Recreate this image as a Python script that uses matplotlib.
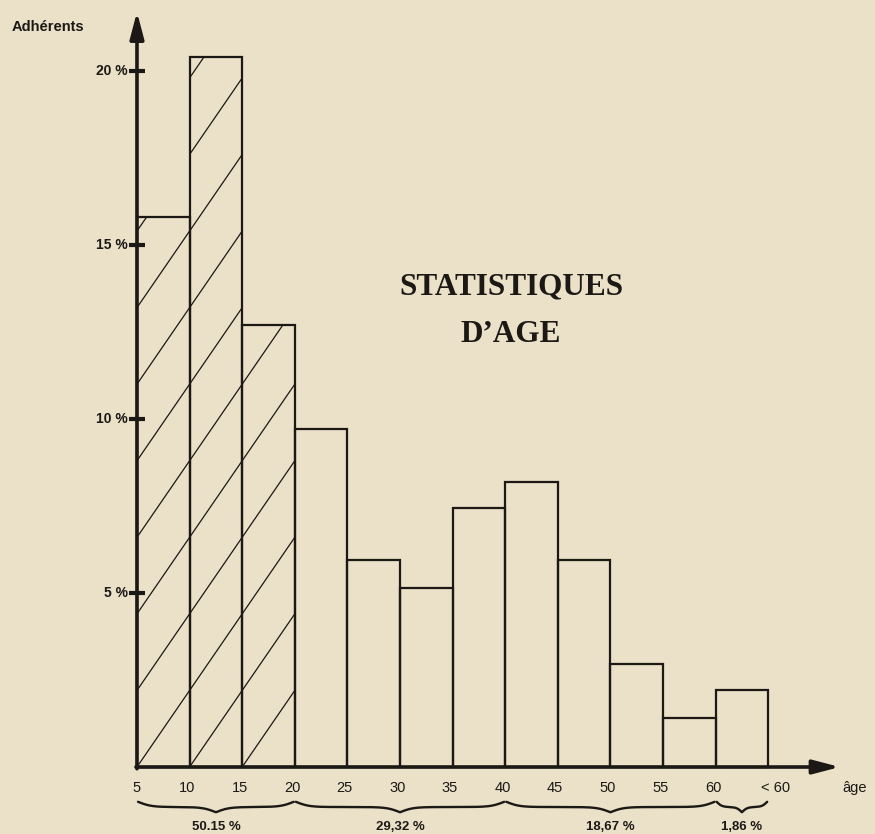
import numpy as np
import matplotlib
matplotlib.use("Agg")
import matplotlib.pyplot as plt

# ---- data ----
age_edges = [5, 10, 15, 20, 25, 30, 35, 40, 45, 50, 55, 60]
bar_width = 5
percent = [15.8, 20.4, 12.7, 9.7, 5.95, 5.15, 7.45, 8.2, 5.95, 2.95, 1.4, 2.2]
hatched = [True, True, True, False, False, False, False, False, False, False, False, False]
x_tick_values = [5, 10, 15, 20, 25, 30, 35, 40, 45, 50, 55, 60]
x_tick_labels = ["5", "10", "15", "20", "25", "30", "35", "40", "45", "50", "55", "60"]
y_tick_values = [5, 10, 15, 20]
y_tick_labels = ["5 %", "10 %", "15 %", "20 %"]
group_bounds = [(5, 20), (20, 40), (40, 60), (60, 65)]
group_labels = ["50.15 %", "29,32 %", "18,67 %", "1,86 %"]

BG = "#ebe1c8"
INK = "#1b1815"

fig = plt.figure(figsize=(8.75, 8.34), dpi=100)
fig.patch.set_facecolor(BG)
ax = fig.add_axes([0, 0, 1, 1])
ax.set_facecolor(BG)
ax.axis("off")
ax.set_xlim(-8.02, 75.15)
ax.set_ylim(-1.925, 22.04)

sans = ["Liberation Sans", "DejaVu Sans"]
serif = ["Liberation Serif", "DejaVu Serif"]

# bars
bars = ax.bar(age_edges, percent, width=bar_width, align="edge",
              facecolor="none", edgecolor=INK, linewidth=1.6, zorder=3)

# hatching: diagonal lines, one spacing rise per bar width
spacing = 2.2
xs = np.array([0.0, 70.0])
for b, h in zip(bars, hatched):
    if not h:
        continue
    for n in range(-40, 40):
        ys = spacing * (xs - 5) / bar_width + spacing * n
        ln, = ax.plot(xs, ys, color=INK, lw=0.9, zorder=2)
        ln.set_clip_path(b)

# axes with arrows
ax.annotate("", xy=(5, 21.7), xytext=(5, -0.05),
            arrowprops=dict(arrowstyle="-|>,head_length=1.6,head_width=0.42",
                            color=INK, lw=2.6, shrinkA=0, shrinkB=0), zorder=4)
ax.annotate("", xy=(71.8, 0), xytext=(4.9, 0),
            arrowprops=dict(arrowstyle="-|>,head_length=1.6,head_width=0.42",
                            color=INK, lw=2.6, shrinkA=0, shrinkB=0), zorder=4)

# y ticks
ax.plot([5] * len(y_tick_values), y_tick_values, linestyle="none", marker="_",
        markersize=11, markeredgewidth=3, color=INK, zorder=5)
for v, lab in zip(y_tick_values, y_tick_labels):
    ax.text(4.15, v, lab, ha="right", va="center", fontsize=10,
            fontweight="bold", family=sans, color=INK)

ax.text(-6.9, 21.25, "Adhérents", ha="left", va="center", fontsize=10.5,
        fontweight="bold", family=sans, color=INK)

# x tick labels
for v, lab in zip(x_tick_values, x_tick_labels):
    ax.text(v - 0.25 if v > 5 else v, -0.6, lab, ha="center", va="center",
            fontsize=10.5, family=sans, color=INK)
ax.text(65.7, -0.6, "< 60", ha="center", va="center", fontsize=10.5,
        family=sans, color=INK)
ax.text(73.2, -0.6, "âge", ha="center", va="center", fontsize=10.5,
        family=sans, color=INK)

# braces
def brace(x0, x1, yc, hgt, beta=3.0):
    n = 200
    xh = np.linspace(x0, (x0 + x1) / 2, n)
    t = xh - xh[0]
    tt = xh - xh[-1]
    yh = 1 / (1 + np.exp(-beta * t)) + 1 / (1 + np.exp(-beta * tt))
    yh = yh - 1.0
    xfull = np.concatenate([xh, (x0 + x1) - xh[::-1]])
    yfull = np.concatenate([yh, yh[::-1]])
    return xfull, yc - yfull * hgt

for (g0, g1), lab in zip(group_bounds, group_labels):
    bx, by = brace(g0 + 0.1, g1 - 0.1, -1.15, 0.3, beta=1.6 if g1 - g0 > 5 else 4.0)
    ax.plot(bx, by, color=INK, lw=1.7, solid_capstyle="round")
    ax.text((g0 + g1) / 2, -1.72, lab, ha="center", va="center", fontsize=9.5,
            fontweight="bold", family=sans, color=INK)

# title
ax.text(40.55, 13.8, "STATISTIQUES", ha="center", va="center", fontsize=22.5,
        fontweight="bold", family=serif, color=INK)
ax.text(40.5, 12.42, "D\u2019AGE", ha="center", va="center", fontsize=22.5,
        fontweight="bold", family=serif, color=INK)

fig.savefig("out.png", dpi=100, facecolor=BG)
